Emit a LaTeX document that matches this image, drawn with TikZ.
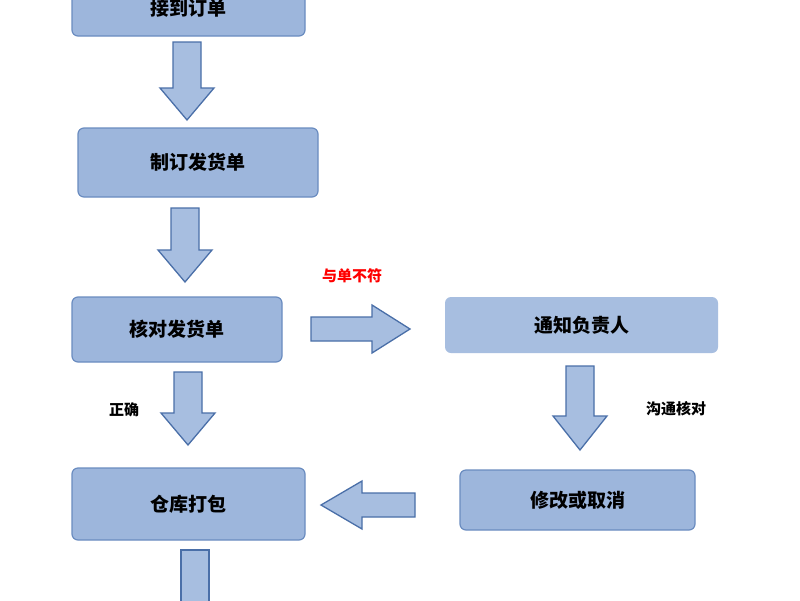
\documentclass[tikz,border=0pt]{standalone}
\usepackage{fontspec}
\newfontfamily\cjk{Noto Sans CJK SC}
\begin{document}
\begin{tikzpicture}[x=1pt,y=-1pt,
 box/.style={draw=boxline,line width=1.2pt,fill=boxfill,rounded corners=6pt,font=\cjk\bfseries\fontsize{19}{22}\selectfont},
 arr/.style={draw=arrline,line width=1.3pt,fill=arrfill},
 lab/.style={font=\cjk\bfseries\fontsize{15}{18}\selectfont}]
\definecolor{boxfill}{HTML}{9DB6DC}
\definecolor{boxline}{HTML}{6A8CC0}
\definecolor{arrfill}{HTML}{A7BEE0}
\definecolor{arrline}{HTML}{4A6FA8}
\useasboundingbox (0,0) rectangle (800,600);
\fill[white] (0,0) rectangle (800,600);
% boxes
\node[box,minimum width=233pt,minimum height=56pt] (a) at (188.5,8) {接到订单};
\node[box,minimum width=240pt,minimum height=69pt] (b) at (198,162.5) {制订发货单};
\node[box,minimum width=210pt,minimum height=65pt] (c) at (177,329.5) {核对发货单};
\node[box,draw=none,fill=arrfill,minimum width=273pt,minimum height=56pt] (d) at (581.5,325) {通知负责人};
\node[box,minimum width=235pt,minimum height=60pt] (e) at (577.5,500) {修改或取消};
\node[box,minimum width=233pt,minimum height=72pt] (f) at (188.5,504) {仓库打包};
% down arrows
\newcommand\darr[4]{% cx, top, bottom, headstart
 \draw[arr] (#1-14,#2) -- (#1+14,#2) -- (#1+14,#4) -- (#1+27,#4) -- (#1,#3) -- (#1-27,#4) -- (#1-14,#4) -- cycle;}
\darr{187}{42}{120}{88}
\darr{185}{208}{282}{250}
\darr{188}{372}{445}{413}
\darr{580}{366}{450}{416}
\draw[arr] (181,550) -- (209,550) -- (209,605) -- (181,605) -- cycle;
% right arrow
\draw[arr] (311,317) -- (372,317) -- (372,305) -- (410,329) -- (372,353) -- (372,341) -- (311,341) -- cycle;
% left arrow
\draw[arr] (415,493) -- (362,493) -- (362,481) -- (321,505) -- (362,529) -- (362,517) -- (415,517) -- cycle;
% labels
\node[lab,text=red] (l1) at (352,276) {与单不符};
\node[lab] (l2) at (124,410) {正确};
\node[lab] (l3) at (676,409) {沟通核对};
\end{tikzpicture}
\end{document}
